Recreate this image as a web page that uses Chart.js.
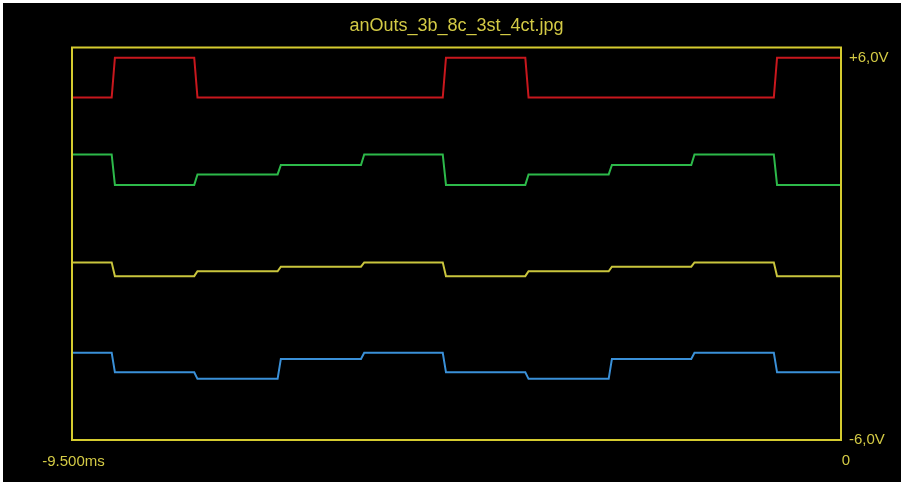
<!DOCTYPE html>
<html>
<head>
<meta charset="utf-8">
<title>anOuts_3b_8c_3st_4ct</title>
<script src="https://cdn.jsdelivr.net/npm/chart.js@4/dist/chart.umd.min.js"></script>
<style>
  html, body { margin: 0; padding: 0; background: #000; }
  #wrap { position: relative; width: 901px; height: 482px; }
  canvas { display: block; }
</style>
</head>
<body>
<div id="wrap"><canvas id="scope" width="901" height="482"></canvas></div>
<script>
// Time window (ms) and voltage range (V)
const timeRange = [-9.5, 0];
const voltRange = [-6, 6];

// Moments (ms) at which the outputs switch to the next state
const edgeTimes = [-9.01, -7.99, -6.96, -5.93, -4.92, -3.90, -2.87, -1.85, -0.83];

// Output levels (V) for each interval between switching moments
const redLevels    = [4.47, 5.69, 4.47, 4.47, 4.47, 5.69, 4.47, 4.47, 4.47, 5.69];
const greenLevels  = [2.73, 1.80, 2.12, 2.41, 2.73, 1.80, 2.12, 2.41, 2.73, 1.80];
const yellowLevels = [-0.57, -0.99, -0.84, -0.70, -0.57, -0.99, -0.84, -0.70, -0.57, -0.99];
const blueLevels   = [-3.33, -3.93, -4.13, -3.52, -3.33, -3.93, -4.13, -3.52, -3.33, -3.93];

// Axis annotations
const titleText = 'anOuts_3b_8c_3st_4ct.jpg';
const timeLabels = ['-9.500ms', '0'];
const voltLabels = ['+6,0V', '-6,0V'];

const SLEW = 0.04; // output settling time, ms

function stepTrace(levels) {
  const pts = [{ x: timeRange[0], y: levels[0] }];
  edgeTimes.forEach((t, i) => {
    pts.push({ x: t, y: levels[i] });
    pts.push({ x: t + SLEW, y: levels[i + 1] });
  });
  pts.push({ x: timeRange[1], y: levels[levels.length - 1] });
  return pts;
}

const FRAME = '#d5cb2f';
const TEXT = '#d3ca45';
const FONT = '"Liberation Sans", Arial, sans-serif';

const scopeFrame = {
  id: 'scopeFrame',
  beforeDraw(chart) {
    const { ctx, width, height } = chart;
    ctx.save();
    ctx.fillStyle = '#000';
    ctx.fillRect(0, 0, width, height);
    ctx.fillStyle = '#ffffff';
    ctx.fillRect(0, 0, width, 3);
    ctx.fillRect(0, 0, 3, height);
    ctx.restore();
  },
  afterDraw(chart) {
    const { ctx, chartArea: a, scales } = chart;
    const xs = scales.x, ys = scales.y;
    ctx.save();
    ctx.strokeStyle = FRAME;
    ctx.lineWidth = 2;
    ctx.strokeRect(a.left, a.top, a.right - a.left, a.bottom - a.top);

    ctx.fillStyle = TEXT;
    ctx.textBaseline = 'alphabetic';
    ctx.font = '18px ' + FONT;
    ctx.textAlign = 'center';
    ctx.fillText(titleText, (a.left + a.right) / 2, 31);

    ctx.font = '15px ' + FONT;
    ctx.textAlign = 'center';
    ctx.fillText(timeLabels[0], xs.getPixelForValue(timeRange[0]) + 1.5, 466);
    ctx.fillText(timeLabels[1], xs.getPixelForValue(timeRange[1]) + 5, 465);

    ctx.textAlign = 'left';
    ctx.fillText(voltLabels[0], a.right + 8, ys.getPixelForValue(voltRange[1]) + 14);
    ctx.fillText(voltLabels[1], a.right + 8, ys.getPixelForValue(voltRange[0]) + 4);
    ctx.restore();
  }
};

const trace = (label, color, levels) => ({
  label,
  data: stepTrace(levels),
  borderColor: color,
  borderWidth: 2,
  pointRadius: 0,
  tension: 0,
  fill: false
});

new Chart(document.getElementById('scope'), {
  type: 'line',
  data: {
    datasets: [
      trace('out1', '#c8171d', redLevels),
      trace('out2', '#2db94a', greenLevels),
      trace('out3', '#c9c53d', yellowLevels),
      trace('out4', '#3a90d8', blueLevels)
    ]
  },
  options: {
    responsive: false,
    animation: false,
    events: [],
    parsing: false,
    layout: { padding: { left: 72, top: 47.5, right: 60, bottom: 42 } },
    scales: {
      x: { type: 'linear', min: timeRange[0], max: timeRange[1], display: false },
      y: { type: 'linear', min: voltRange[0], max: voltRange[1], display: false }
    },
    plugins: {
      legend: { display: false },
      tooltip: { enabled: false },
      title: { display: false }
    }
  },
  plugins: [scopeFrame]
});
</script>
</body>
</html>
